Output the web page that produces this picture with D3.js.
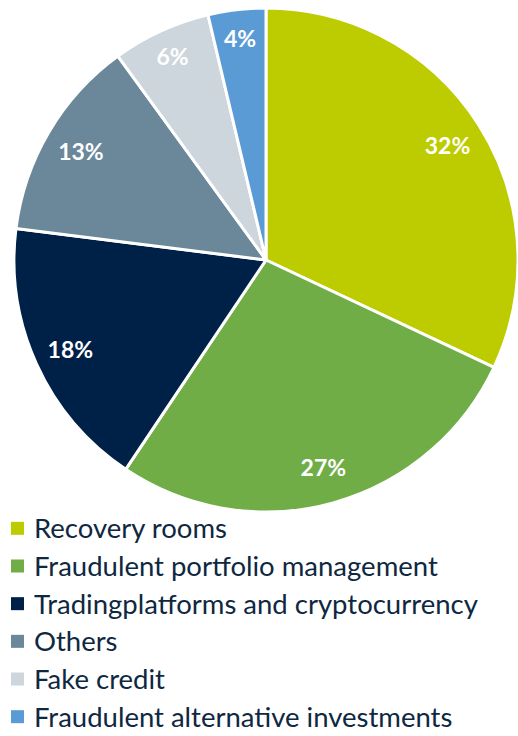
<!DOCTYPE html>
<html>
<head>
<meta charset="utf-8">
<script src="https://cdn.jsdelivr.net/npm/d3@7"></script>
<style>
  body { margin: 0; background: #fff; }
  svg { display: block; font-family: Lato, "Open Sans", sans-serif; }
</style>
</head>
<body>
<div id="chart"></div>
<script>
// DATA
const categories = [
  'Recovery rooms',
  'Fraudulent portfolio management',
  'Tradingplatforms and cryptocurrency',
  'Others',
  'Fake credit',
  'Fraudulent alternative investments'
];
const shares = [32, 27.4, 17.6, 13, 6.3, 3.7];
const colors = ['#bdcc00', '#70ad47', '#002147', '#6a8899', '#cdd6dd', '#5b9bd5'];

// CONST
let width = 518,
  height = 736;
let cx = 266,
  cy = 260,
  radius = 252;

let svg = d3
  .select('#chart')
  .append('svg')
  .attr('width', width)
  .attr('height', height);

let pie = d3.pie().sort(null).value(d => d.value);
let arcs = pie(categories.map((c, i) => ({ name: c, value: shares[i], color: colors[i] })));

let arc = d3.arc().innerRadius(0).outerRadius(radius);
// small slices get their label a bit further out
let labelArc = d3
  .arc()
  .innerRadius(d => (d.data.value < 10 ? 224 : 215))
  .outerRadius(d => (d.data.value < 10 ? 224 : 215));

let g = svg.append('g').attr('transform', `translate(${cx},${cy})`);

g.selectAll('path')
  .data(arcs)
  .join('path')
  .attr('d', arc)
  .attr('fill', d => d.data.color)
  .attr('stroke', '#fff')
  .attr('stroke-width', 3)
  .attr('stroke-linejoin', 'round');

g.selectAll('text')
  .data(arcs)
  .join('text')
  .attr('transform', d => `translate(${labelArc.centroid(d)})`)
  .attr('text-anchor', 'middle')
  .attr('dominant-baseline', 'central')
  .attr('fill', '#fff')
  .attr('font-weight', 'bold')
  .attr('font-size', 23)
  .text(d => Math.round(d.data.value) + '%');

// LEGEND
let legendY = d3.scaleBand().domain(categories).range([508, 734]);

let legend = svg
  .selectAll('.legend')
  .data(categories)
  .join('g')
  .attr('class', 'legend')
  .attr('transform', d => `translate(0,${legendY(d) + legendY.bandwidth() / 2})`);

legend
  .append('rect')
  .attr('x', 11)
  .attr('y', -5)
  .attr('width', 13)
  .attr('height', 13)
  .attr('fill', (d, i) => colors[i]);

legend
  .append('text')
  .attr('x', 34)
  .attr('y', 1)
  .attr('dominant-baseline', 'central')
  .attr('fill', '#0e2841')
  .attr('font-size', 27.5)
  .text(d => d);
</script>
</body>
</html>
